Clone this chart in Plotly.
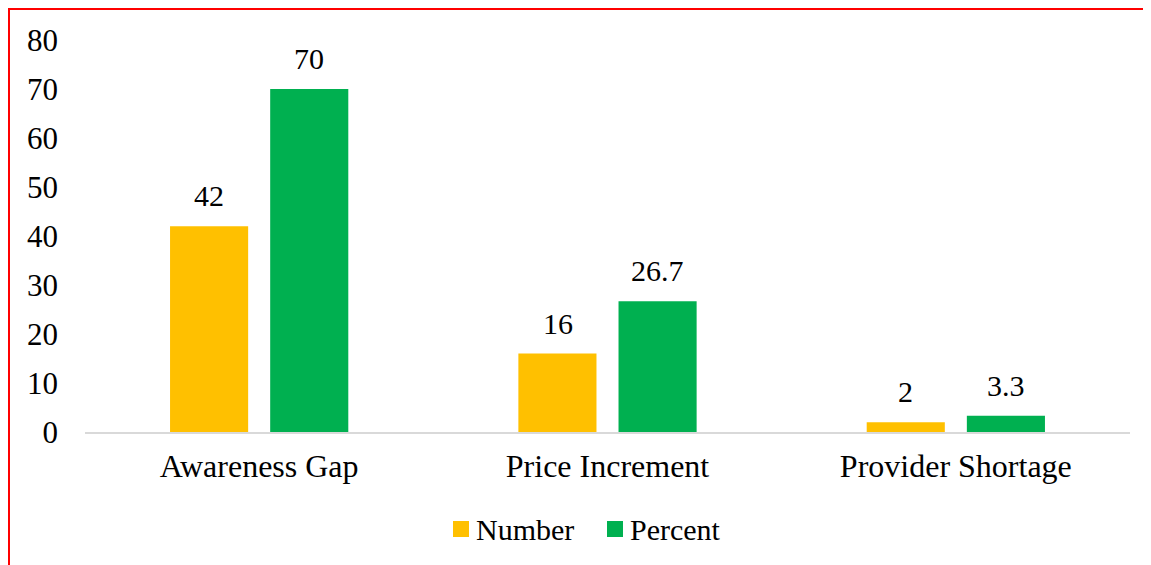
import plotly.graph_objects as go

categories = ["Awareness Gap", "Price Increment", "Provider Shortage"]
number_vals = [42, 16, 2]
percent_vals = [70, 26.7, 3.3]
number_labels = ["42", "16", "2"]
percent_labels = ["70", "26.7", "3.3"]
series_names = ["Number", "Percent"]
series_colors = ["#FFC000", "#00B050"]
y_ticks = [0, 10, 20, 30, 40, 50, 60, 70, 80]

FONT = "Liberation Serif"
OFF = 8  # page body margin
W, H = 1151 - OFF, 565 - OFF
L, R, T, B = 85 - OFF, 21, 40 - OFF, 133
pw, ph = W - L - R, H - T - B

def px_x(x):
    return (x - OFF - L) / pw

def px_y(y):
    return (H - B - (y - OFF)) / ph

fig = go.Figure()
for name, vals, color in zip(series_names, [number_vals, percent_vals], series_colors):
    fig.add_trace(go.Bar(
        name=name, x=categories, y=vals, showlegend=False,
        marker=dict(color=color, line=dict(width=0)),
    ))

annotations = []
# value labels above each bar (offset to each bar of the group)
for vals, labels, shift in [(number_vals, number_labels, -50), (percent_vals, percent_labels, 50)]:
    for c, v, t in zip(categories, vals, labels):
        annotations.append(dict(
            x=c, y=v, xref="x", yref="y", text=t, showarrow=False,
            xshift=shift, yshift=12, yanchor="bottom", xanchor="center",
            font=dict(family=FONT, size=30, color="black"),
        ))

# manual legend
legend_x = [453, 607]
for name, color, lx in zip(series_names, series_colors, legend_x):
    annotations.append(dict(
        x=px_x(lx + 21), y=px_y(529), xref="paper", yref="paper", text=name,
        showarrow=False, xanchor="left", yanchor="middle",
        font=dict(family=FONT, size=30, color="black"),
    ))

shapes = [
    dict(type="line", xref="paper", yref="paper",
         x0=px_x(8), x1=px_x(1151), y0=px_y(9), y1=px_y(9),
         line=dict(color="red", width=2)),
    dict(type="line", xref="paper", yref="paper",
         x0=px_x(9), x1=px_x(9), y0=px_y(9), y1=px_y(565),
         line=dict(color="red", width=2)),
]
for color, lx in zip(series_colors, legend_x):
    shapes.append(dict(type="rect", xref="paper", yref="paper",
                       x0=px_x(lx), x1=px_x(lx + 16), y0=px_y(537), y1=px_y(521),
                       fillcolor=color, line=dict(width=0)))

fig.update_layout(
    width=W, height=H,
    margin=dict(l=L, r=R, t=T, b=B, pad=0),
    paper_bgcolor="white", plot_bgcolor="white",
    barmode="group", bargap=0.425, bargroupgap=0.22,
    font=dict(family=FONT, size=30, color="black"),
    showlegend=False,
    xaxis=dict(showgrid=False, showline=True, linecolor="#d9d9d9", linewidth=2,
               ticks="", tickfont=dict(family=FONT, size=32, color="black"),
               ticklabelstandoff=5, zeroline=False),
    yaxis=dict(range=[0, 80], tickvals=y_ticks, showgrid=False, showline=False,
               zeroline=False, ticks="", ticklabelstandoff=26,
               tickfont=dict(family=FONT, size=31, color="black")),
    annotations=annotations,
    shapes=shapes,
)

fig.write_html("out.html")
